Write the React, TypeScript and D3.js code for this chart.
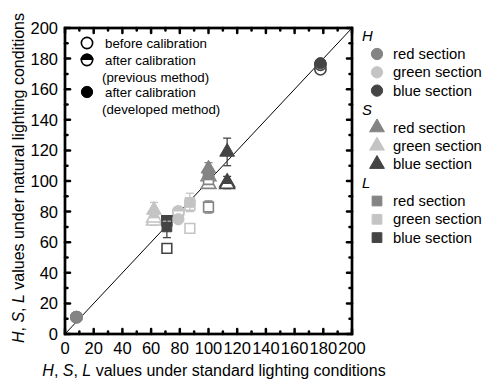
import React from "react";
import * as d3 from "d3";

// ---- data ----
const categories = ["H-red", "H-green", "H-blue", "S-red", "S-green", "S-blue", "L-red", "L-green", "L-blue"];
const components = ["H", "H", "H", "S", "S", "S", "L", "L", "L"];
const sections = ["red", "green", "blue", "red", "green", "blue", "red", "green", "blue"];
const standardValues = [8, 79, 178, 100, 62, 113, 100, 87, 71];
const beforeValues = [11, 79, 173, 98, 74, 99, 83, 69, 56];
const beforeErr = [0, 0, 0, 2, 3, 4, 4, 0, 2];
const previousValues = [11, 80, 176, 103, 76, 98, 101, 84, 74];
const previousErr = [0, 0, 0, 0, 0, 0, 0, 0, 0];
const developedValues = [11, 75, 177, 108, 81, 119, 104, 86, 70];
const developedErr = [0, 0, 0, 4, 5, 9, 3, 6, 7];
const xTicks = [0, 20, 40, 60, 80, 100, 120, 140, 160, 180, 200];
const minorTicks = [10, 30, 50, 70, 90, 110, 130, 150, 170, 190];
const methodLabels = [["before calibration"], ["after calibration", "(previous method)"], ["after calibration", "(developed method)"]];
const legendGroups = ["H", "S", "L"];
const sectionNames = ["red section", "green section", "blue section"];

const sectionColor: Record<string, string> = { red: "#848484", green: "#c4c4c4", blue: "#444444" };
const FONT = "'Liberation Sans', Arial, sans-serif";

function shapePath(comp: string): string {
  if (comp === "H") return d3.symbol(d3.symbolCircle, 100)()!;
  if (comp === "S") return d3.symbol(d3.symbolTriangle, 95)()!;
  return d3.symbol(d3.symbolSquare, 95)()!;
}

let clipCounter = 0;

function Marker({ cx, cy, comp, color, kind }: { cx: number; cy: number; comp: string; color: string; kind: "open" | "half" | "filled" }) {
  const d = shapePath(comp);
  if (kind === "filled") {
    return <path d={d} transform={`translate(${cx},${cy})`} fill={color} stroke={color} strokeWidth={1} />;
  }
  if (kind === "open") {
    return <path d={d} transform={`translate(${cx},${cy})`} fill="white" stroke={color} strokeWidth={1.6} />;
  }
  const id = `hc${clipCounter++}`;
  return (
    <g transform={`translate(${cx},${cy})`}>
      <clipPath id={id}>
        <rect x={-10} y={-10} width={20} height={10} />
      </clipPath>
      <path d={d} fill="white" stroke={color} strokeWidth={1.6} />
      <path d={d} fill={color} stroke={color} strokeWidth={1.6} clipPath={`url(#${id})`} />
    </g>
  );
}

function ErrBar({ cx, y0, y1, color }: { cx: number; y0: number; y1: number; color: string }) {
  return (
    <g stroke={color} strokeWidth={1.3}>
      <line x1={cx} x2={cx} y1={y0} y2={y1} />
      <line x1={cx - 4} x2={cx + 4} y1={y0} y2={y0} />
      <line x1={cx - 4} x2={cx + 4} y1={y1} y2={y1} />
    </g>
  );
}

export default function App() {
  clipCounter = 0;
  const x = d3.scaleLinear().domain([0, 200]).range([65, 352]);
  const y = d3.scaleLinear().domain([0, 200]).range([334, 28]);
  const [x0, x1] = x.range();
  const [yb, yt] = y.range();

  const layers: { vals: number[]; errs: number[]; kind: "open" | "half" | "filled" }[] = [
    { vals: beforeValues, errs: beforeErr, kind: "open" },
    { vals: previousValues, errs: previousErr, kind: "half" },
    { vals: developedValues, errs: developedErr, kind: "filled" },
  ];

  return (
    <svg width={484} height={380} style={{ position: "absolute", left: 0, top: 0, background: "white" }} fontFamily={FONT}>
      {/* diagonal */}
      <line x1={x(0)} y1={y(0)} x2={x(200)} y2={y(200)} stroke="black" strokeWidth={1} />

      {/* data */}
      {layers.map((layer, li) => (
        <g key={li}>
          {categories.map((c, i) => {
            const color = sectionColor[sections[i]];
            const cx = x(standardValues[i]);
            const v = layer.vals[i];
            const e = layer.errs[i];
            return (
              <g key={c}>
                {e > 0 && <ErrBar cx={cx} y0={y(v + e)} y1={y(v - e)} color={color} />}
                <Marker cx={cx} cy={y(v)} comp={components[i]} color={color} kind={layer.kind} />
              </g>
            );
          })}
        </g>
      ))}

      {/* frame */}
      <rect x={x0} y={yt} width={x1 - x0} height={yb - yt} fill="none" stroke="black" strokeWidth={2.7} />

      {/* ticks */}
      <g stroke="black" strokeWidth={2.5} strokeLinecap="round">
        {xTicks.map((t) => (
          <g key={"M" + t}>
            <line x1={x(t)} x2={x(t)} y1={yb} y2={yb - 5} />
            <line x1={x(t)} x2={x(t)} y1={yt} y2={yt + 5} />
            <line y1={y(t)} y2={y(t)} x1={x0} x2={x0 + 5} />
            <line y1={y(t)} y2={y(t)} x1={x1} x2={x1 - 5} />
          </g>
        ))}
        {minorTicks.map((t) => (
          <g key={"m" + t}>
            <line x1={x(t)} x2={x(t)} y1={yb} y2={yb - 2.5} />
            <line x1={x(t)} x2={x(t)} y1={yt} y2={yt + 2.5} />
            <line y1={y(t)} y2={y(t)} x1={x0} x2={x0 + 2.5} />
            <line y1={y(t)} y2={y(t)} x1={x1} x2={x1 - 2.5} />
          </g>
        ))}
      </g>

      {/* tick labels */}
      <g fontSize={16.5} fill="black">
        {xTicks.map((t) => (
          <text key={"xl" + t} x={x(t)} y={yb + 20} textAnchor="middle">
            {t}
          </text>
        ))}
        {xTicks.map((t) => (
          <text key={"yl" + t} x={x0 - 7} y={y(t) + 6} textAnchor="end">
            {t}
          </text>
        ))}
      </g>

      {/* axis titles */}
      <text x={214} y={376} textAnchor="middle" fontSize={16}>
        <tspan fontStyle="italic">H</tspan>, <tspan fontStyle="italic">S</tspan>, <tspan fontStyle="italic">L</tspan> values under standard lighting conditions
      </text>
      <text transform="translate(24,178) rotate(-90)" textAnchor="middle" fontSize={16}>
        <tspan fontStyle="italic">H</tspan>, <tspan fontStyle="italic">S</tspan>, <tspan fontStyle="italic">L</tspan> values under natural lighting conditions
      </text>

      {/* method legend (inside) */}
      <g fontSize={13.3}>
        {methodLabels.map((lines, i) => {
          const ly = [43, 60, 92][i];
          const kind = (["open", "half", "filled"] as const)[i];
          return (
            <g key={i}>
              <Marker cx={87} cy={ly} comp="H" color="black" kind={kind} />
              {lines.map((ln, j) => (
                <text key={j} x={j === 0 ? 105 : 102} y={ly + 5 + j * 16.5}>
                  {ln}
                </text>
              ))}
            </g>
          );
        })}
      </g>

      {/* component legend (right) */}
      <g fontSize={14.8}>
        {legendGroups.map((g, gi) => {
          const gy = 36 + gi * 73.5;
          return (
            <g key={g}>
              <text x={362} y={gy + 5} fontStyle="italic">
                {g}
              </text>
              {sectionNames.map((s, si) => {
                const ry = gy + 18 + si * 18.3;
                const sec = ["red", "green", "blue"][si];
                return (
                  <g key={s}>
                    <Marker cx={377} cy={ry} comp={g} color={sectionColor[sec]} kind="filled" />
                    <text x={393} y={ry + 5}>
                      {s}
                    </text>
                  </g>
                );
              })}
            </g>
          );
        })}
      </g>
    </svg>
  );
}
